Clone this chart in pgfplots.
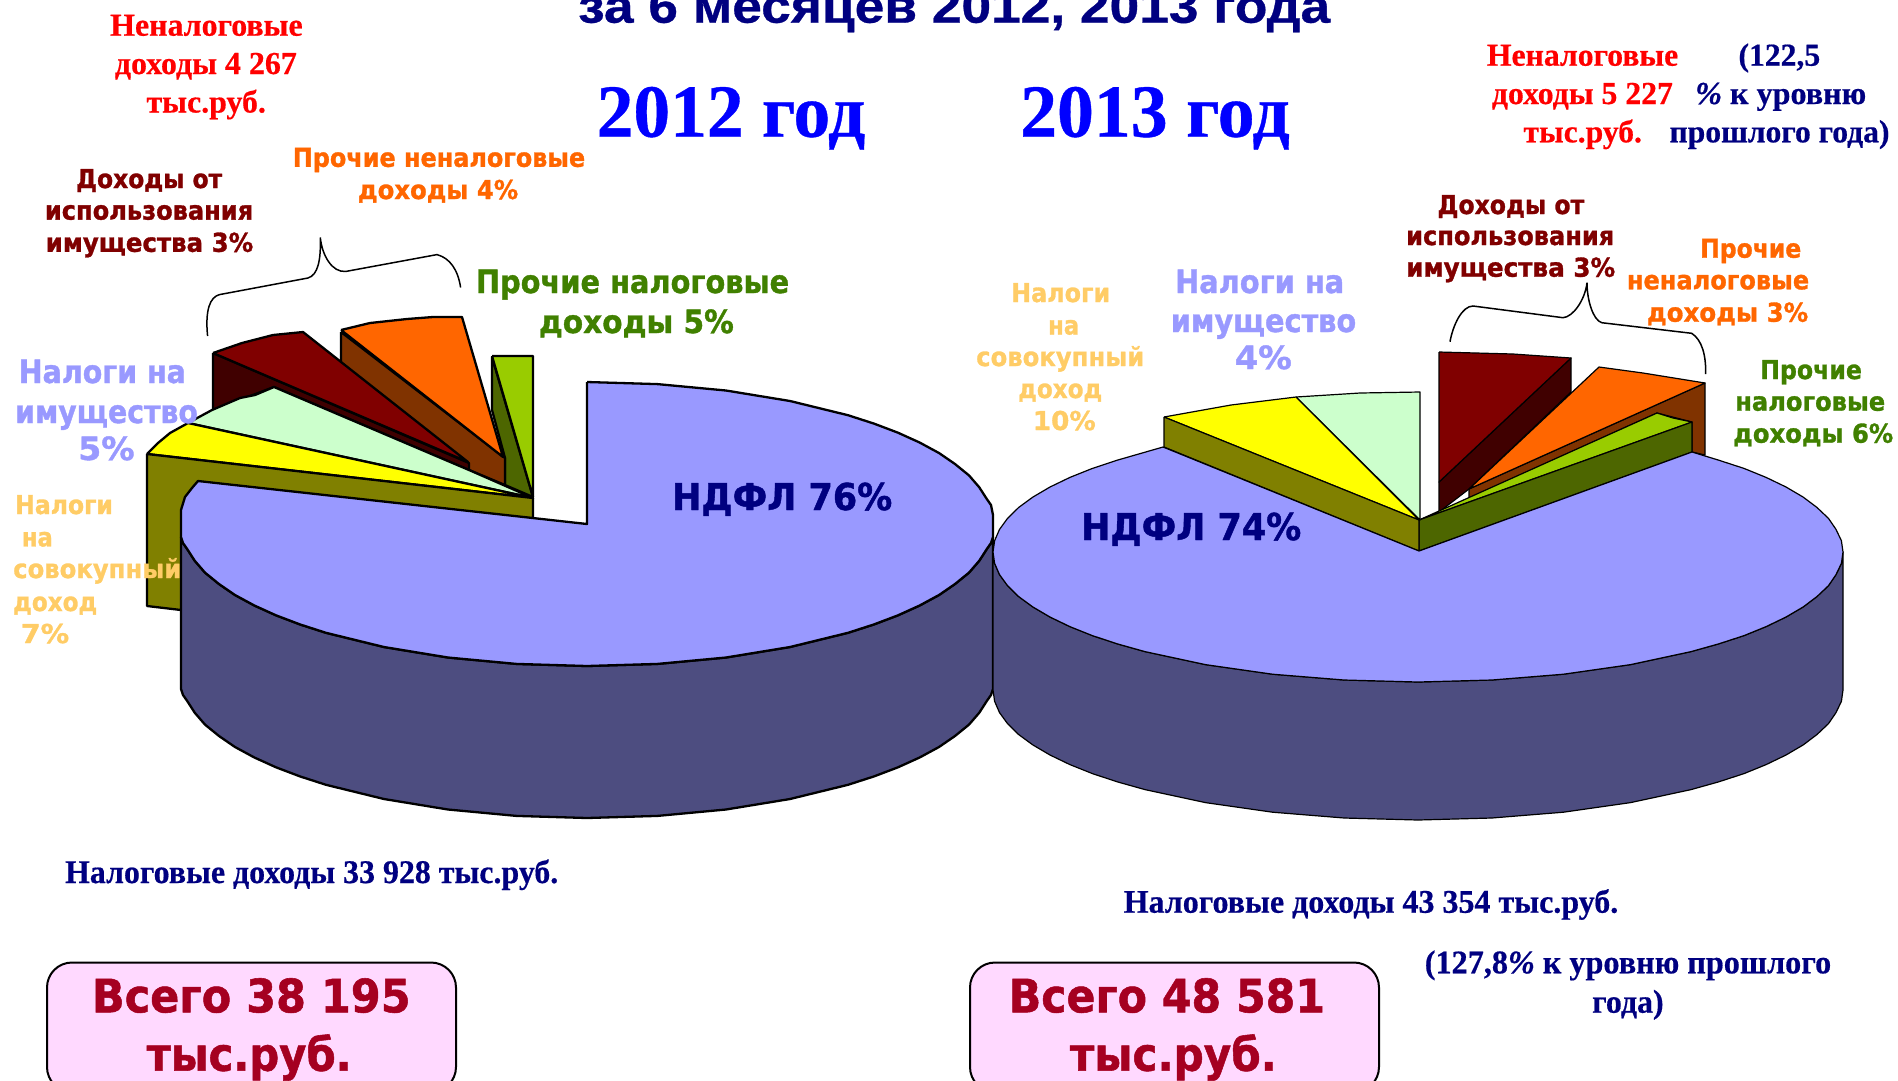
\documentclass[border=0pt]{standalone}
\usepackage{pgfplots}
\pgfplotsset{compat=1.18}
\usepackage{fontspec}
\setmainfont{Liberation Serif}
\newfontfamily\vb{DejaVu Sans}[BoldFeatures={FakeBold=1.2}]
\newfontfamily\tb{Liberation Serif}[BoldFeatures={FakeBold=0.5},BoldItalicFeatures={FakeBold=0.5}]
\newfontfamily\ab{Liberation Sans}[BoldFeatures={FakeBold=0.6}]
\definecolor{ndfl}{HTML}{9999FF}
\definecolor{ndfls}{HTML}{4D4D80}
\definecolor{oliv}{HTML}{808000}
\definecolor{yell}{HTML}{FFFF00}
\definecolor{lgr}{HTML}{CCFFCC}
\definecolor{dred}{HTML}{800000}
\definecolor{dreds}{HTML}{400000}
\definecolor{oran}{HTML}{FF6600}
\definecolor{orans}{HTML}{803300}
\definecolor{ygr}{HTML}{99CC00}
\definecolor{ygrs}{HTML}{4D6600}
\definecolor{navy}{HTML}{000080}
\definecolor{lab}{HTML}{FFCC66}
\definecolor{lgreen}{HTML}{408000}
\definecolor{total}{HTML}{A50021}
\definecolor{boxf}{HTML}{FFD9FF}
\newlength\tw
% x1, x2, baseline y, font, size, colour, text
\newcommand{\T}[7]{\node[anchor=base west,inner sep=0pt,text=#6] at (axis cs:#1,#3)
  {\pgfmathsetlength\tw{#2-#1}\resizebox{\tw}{\height}{#4\bfseries\fontsize{#5}{#5}\selectfont #7}};}
\pgfplotsset{L/.style={draw=black,line width=2.3pt,line join=round,mark=none,fill=#1},
             R/.style={draw=black,line width=1.2pt,line join=round,mark=none,fill=#1}}
\begin{document}
\begin{tikzpicture}
\path[use as bounding box] (0,0) rectangle (1898pt,1080pt);
\clip (0,0) rectangle (1898pt,1080pt);
\begin{axis}[at={(0,0)},anchor=south west,scale only axis,width=1898pt,height=1080pt,
  xmin=0,xmax=1898,ymin=0,ymax=1080,y dir=reverse,hide axis,clip=false]
%%%%% 2012
\addplot[L=ygrs] coordinates {(492,357)(533,497)(505,485)(505,458)(492,410)(492,357)};
\addplot[L=ygr] coordinates {(492,356)(533,356)(533,497)(492,356)};
\addplot[L=orans] coordinates {(341,332)(505,458)(505,485)(469,470)(341,390)(341,332)};
\addplot[L=oran] coordinates {(341,330)(370,323)(407,319)(433,317)(462,317)(503,457)(341,330)};
\addplot[L=dreds] coordinates {(213,353)(469,463)(469,470)(274,387)(213,410)(213,353)};
\addplot[L=dred] coordinates {(213,353)(242,343)(273,335)(303,332)(468,462)(213,353)};
\addplot[L=lgr] coordinates {(188,423)(212,410)(240,398)(255,395)(274,387)(469,470)(533,498)(188,423)};
\addplot[L=yell] coordinates {(147,454)(158,443)(170,433)(188,423)(533,498)(147,454)};
\addplot[L=oliv] coordinates {(147,454)(533,498)(533,560)(181,610)(147,606)(147,454)};
\addplot[L=ndfls] coordinates {(181,537)(183,543)(187,548.7)(194.8,560.8)(205,572.6)(219,584)(235,595)(254.4,605.5)(276,615.3)(300,624.4)(326,632.8)(384,647)(448,657.5)(516.5,663.9)(587,666)(657.5,663.9)(726,657.5)(790,647)(848,632.8)(874,624.4)(898,615.3)(919.6,605.5)(939,595)(955,584)(969,572.6)(979.2,560.8)(987,548.7)(991,543)(993,537)(993,689)(991,695)(987,700.7)(979.2,712.8)(969,724.6)(955,736)(939,747)(919.6,757.5)(898,767.3)(874,776.4)(848,784.8)(790,799)(726,809.5)(657.5,815.9)(587,818)(516.5,815.9)(448,809.5)(384,799)(326,784.8)(300,776.4)(276,767.3)(254.4,757.5)(235,747)(219,736)(205,724.6)(194.8,712.8)(187,700.7)(183,695)(181,689)(181,537)};
\addplot[L=ndfl] coordinates {(587,382)(657.5,384.1)(726,390.5)(790,401)(848,415.2)(874,423.6)(898,432.7)(919.6,442.5)(939,453)(955,464)(969,475.4)(979.2,487.2)(987,499.3)(991,505)(993,515)(993,537)(991,543)(987,548.7)(979.2,560.8)(969,572.6)(955,584)(939,595)(919.6,605.5)(898,615.3)(874,624.4)(848,632.8)(790,647)(726,657.5)(657.5,663.9)(587,666)(516.5,663.9)(448,657.5)(384,647)(326,632.8)(300,624.4)(276,615.3)(254.4,605.5)(235,595)(219,584)(205,572.6)(194.8,560.8)(187,548.7)(183,543)(181,537)(181,510)(185,497)(192,488)(198,481)(587,524)(587,382)};
%%%%% 2013
\addplot[R=dreds] coordinates {(1439,482)(1571,358)(1571,392)(1469,489)(1439,512)(1439,482)};
\addplot[R=dred] coordinates {(1439,352)(1513,354)(1571,358)(1439,482)(1439,352)};
\addplot[R=orans] coordinates {(1469,489)(1705,383)(1705,455)(1692,452)(1692,422)(1657,413)(1469,498)(1469,489)};
\addplot[R=oran] coordinates {(1469,489)(1599,367)(1643,373)(1705,383)(1469,489)};
\addplot[R=ygr] coordinates {(1419,520)(1657,413)(1673,418)(1692,422)(1419,520)};
\addplot[R=ygrs] coordinates {(1419,520)(1419,551)(1692,452)(1692,422)(1419,520)};
\addplot[R=lgr] coordinates {(1296,397)(1360,393)(1420,392)(1420,520)(1296,397)};
\addplot[R=yell] coordinates {(1164,417)(1231,405)(1296,397)(1419,520)(1164,417)};
\addplot[R=oliv] coordinates {(1164,417)(1419,520)(1419,551)(1164,447)(1164,417)};
\addplot[R=ndfls] coordinates {(993,552)(994.6,563.3)(999.5,574.6)(1007.5,585.6)(1018.6,596.5)(1032.8,606.9)(1050,617)(1069.9,626.6)(1092.4,635.6)(1117.5,643.9)(1145,651.6)(1205.5,664.6)(1272.6,674.2)(1344.2,680)(1418,682)(1491.8,680)(1563.4,674.2)(1630.5,664.6)(1691,651.6)(1718.5,643.9)(1744,635.6)(1766.1,626.6)(1786,617)(1803.2,606.9)(1817,596.5)(1828.5,585.6)(1836,574.6)(1841.4,563.3)(1843,552)(1843,690)(1841.4,701.3)(1836,712.6)(1828.5,723.6)(1817,734.5)(1803.2,744.9)(1786,755)(1766.1,764.6)(1744,773.6)(1718.5,781.9)(1691,789.6)(1630.5,802.6)(1563.4,812.2)(1491.8,818)(1418,820)(1344.2,818)(1272.6,812.2)(1205.5,802.6)(1145,789.6)(1117.5,781.9)(1092.4,773.6)(1069.9,764.6)(1050,755)(1032.8,744.9)(1018.6,734.5)(1007.5,723.6)(999.5,712.6)(994.6,701.3)(993,690)(993,552)};
\addplot[R=ndfl] coordinates {(1419,551)(1692,452)(1718.5,460.1)(1744,468.4)(1766.1,477.4)(1786,487)(1803.2,497.1)(1817,507.5)(1828.5,518.4)(1836,529.4)(1841.4,540.7)(1843,552)(1841.4,563.3)(1836,574.6)(1828.5,585.6)(1817,596.5)(1803.2,606.9)(1786,617)(1766.1,626.6)(1744,635.6)(1718.5,643.9)(1691,651.6)(1630.5,664.6)(1563.4,674.2)(1491.8,680)(1418,682)(1344.2,680)(1272.6,674.2)(1205.5,664.6)(1145,651.6)(1117.5,643.9)(1092.4,635.6)(1069.9,626.6)(1050,617)(1032.8,606.9)(1018.6,596.5)(1007.5,585.6)(999.5,574.6)(994.6,563.3)(993,552)(994.6,540.7)(999.5,529.4)(1007.5,518.4)(1018.6,507.5)(1032.8,497.1)(1050,487)(1069.9,477.4)(1092.4,468.4)(1117.5,460.1)(1163,447)(1419,551)};
%%%%% brackets
\draw[line width=1.5pt] (axis cs:207.6,336) .. controls (axis cs:205,310) and (axis cs:210,297) .. (axis cs:219.5,294.6) -- (axis cs:308,278) .. controls (axis cs:318,275) and (axis cs:321,260) .. (axis cs:320.3,237.5) .. controls (axis cs:322,255) and (axis cs:332,273) .. (axis cs:346,271.4) -- (axis cs:437,254.6) .. controls (axis cs:450,258) and (axis cs:458,270) .. (axis cs:460.6,287.5);
\draw[line width=1.5pt] (axis cs:1450,341.7) .. controls (axis cs:1453,325) and (axis cs:1462,306) .. (axis cs:1473,306) -- (axis cs:1563,317.7) .. controls (axis cs:1573,317) and (axis cs:1585,300) .. (axis cs:1587,282.7) .. controls (axis cs:1587,300) and (axis cs:1593,320) .. (axis cs:1601.7,322.7) -- (axis cs:1691.7,333.3) .. controls (axis cs:1702,340) and (axis cs:1706,355) .. (axis cs:1705.7,374);
%%%%% boxes
\draw[line width=2pt,fill=boxf,rounded corners=25pt] (axis cs:47,962.5) rectangle (axis cs:456,1092);
\draw[line width=2pt,fill=boxf,rounded corners=25pt] (axis cs:970,962.5) rectangle (axis cs:1379,1092);
%%%%% text
\T{578}{1330}{22.7}{\ab}{48}{navy}{за 6 месяцев 2012, 2013 года}
\T{596.5}{865}{136.7}{\tb}{75}{blue}{2012 год}
\T{1020}{1289.5}{136.7}{\tb}{75}{blue}{2013 год}
\T{110}{302.5}{35.7}{\tb}{32}{red}{Неналоговые}
\T{114.7}{296.6}{74}{\tb}{32}{red}{доходы 4 267}
\T{146.3}{265.7}{112.5}{\tb}{32}{red}{тыс.руб.}
\T{1486.7}{1678}{65.7}{\tb}{32}{red}{Неналоговые}
\T{1491.7}{1672.7}{104}{\tb}{32}{red}{доходы 5 227}
\T{1523.3}{1641.7}{142.3}{\tb}{32}{red}{тыс.руб.}
\T{1738.3}{1820}{65.7}{\tb}{32}{navy}{(122,5}
\T{1695}{1866}{104}{\tb}{32}{navy}{{\itshape\%} к уровню}
\T{1669.3}{1889.3}{142.3}{\tb}{32}{navy}{прошлого года)}
\T{76}{222}{188}{\vb}{26}{dred}{Доходы от}
\T{44.7}{253}{219.6}{\vb}{26}{dred}{использования}
\T{45.5}{253}{251.8}{\vb}{26}{dred}{имущества 3\%}
\T{292.6}{585}{166.8}{\vb}{26}{oran}{Прочие неналоговые}
\T{357.8}{518}{199}{\vb}{26}{oran}{доходы 4\%}
\T{475.7}{789}{293}{\vb}{32}{lgreen}{Прочие налоговые}
\T{538.7}{733.6}{333}{\vb}{32}{lgreen}{доходы 5\%}
\T{18.6}{185.8}{383}{\vb}{32}{ndfl}{Налоги на}
\T{15}{197.7}{423}{\vb}{32}{ndfl}{имущество}
\T{78}{134.4}{460}{\vb}{32}{ndfl}{5\%}
\T{15}{112.7}{514}{\vb}{26}{lab}{Налоги}
\T{21.7}{52.6}{546.4}{\vb}{26}{lab}{на}
\T{13}{181}{578}{\vb}{26}{lab}{совокупный}
\T{13}{97}{611}{\vb}{26}{lab}{доход}
\T{20.6}{69}{643}{\vb}{26}{lab}{7\%}
\T{672}{892}{510}{\vb}{37}{navy}{НДФЛ 76\%}
\T{1081}{1301}{540}{\vb}{37}{navy}{НДФЛ 74\%}
\T{1011}{1110}{302}{\vb}{26}{lab}{Налоги}
\T{1048}{1079}{334.5}{\vb}{26}{lab}{на}
\T{976}{1144}{366}{\vb}{26}{lab}{совокупный}
\T{1018}{1102}{398}{\vb}{26}{lab}{доход}
\T{1032.6}{1095.5}{430}{\vb}{26}{lab}{10\%}
\T{1175}{1344}{293}{\vb}{32}{ndfl}{Налоги на}
\T{1170.6}{1356}{332}{\vb}{32}{ndfl}{имущество}
\T{1234.7}{1291.6}{369}{\vb}{32}{ndfl}{4\%}
\T{1437.3}{1584}{214}{\vb}{26}{dred}{Доходы от}
\T{1406}{1614}{245}{\vb}{26}{dred}{использования}
\T{1406}{1615}{276.7}{\vb}{26}{dred}{имущества 3\%}
\T{1700}{1801}{257.7}{\vb}{26}{oran}{Прочие}
\T{1626.7}{1809}{289.3}{\vb}{26}{oran}{неналоговые}
\T{1646.7}{1808}{321.7}{\vb}{26}{oran}{доходы 3\%}
\T{1760}{1861.7}{379}{\vb}{26}{lgreen}{Прочие}
\T{1735}{1885}{410.7}{\vb}{26}{lgreen}{налоговые}
\T{1733}{1893}{442.7}{\vb}{26}{lgreen}{доходы 6\%}
\T{64.9}{558}{883}{\tb}{33}{navy}{Налоговые доходы 33 928 тыс.руб.}
\T{1123.5}{1618}{912.7}{\tb}{33}{navy}{Налоговые доходы 43 354 тыс.руб.}
\T{1424.6}{1831}{973.3}{\tb}{33}{navy}{(127,8{\itshape\%} к уровню прошлого}
\T{1592}{1663.4}{1012.7}{\tb}{33}{navy}{года)}
\T{91.8}{410.4}{1012.3}{\vb}{46}{total}{Всего 38 195}
\T{146.4}{351.3}{1070.7}{\vb}{46}{total}{тыс.руб.}
\T{1008.6}{1324.8}{1012.3}{\vb}{46}{total}{Всего 48 581}
\T{1069.7}{1276.5}{1070.7}{\vb}{46}{total}{тыс.руб.}
\end{axis}
\end{tikzpicture}
\end{document}
